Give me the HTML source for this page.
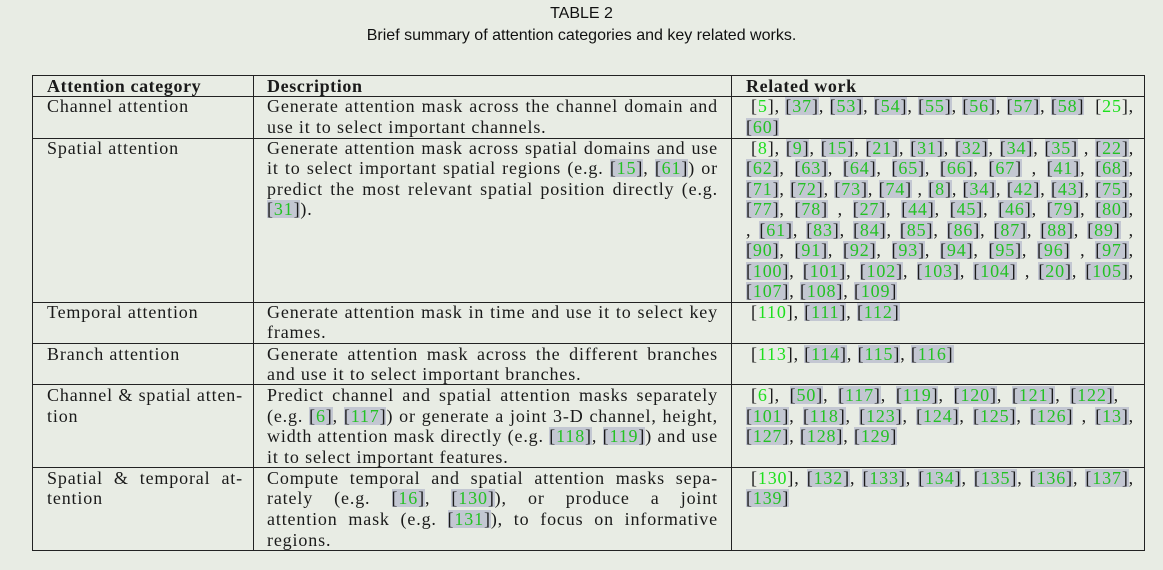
<!DOCTYPE html>
<html><head><meta charset="utf-8"><style>
body{margin:0;width:1163px;height:570px;background:#e8ece4;position:relative;overflow:hidden;font-family:"Liberation Serif",serif;color:#1a1a1a}
.t{position:absolute;left:0;width:1163px;text-align:center;font-family:"Liberation Sans",sans-serif;font-size:16px;color:#111}
.h{position:absolute;background:#222;height:1px;z-index:2}
.v{position:absolute;background:#222;width:1px;z-index:2}
.l{position:absolute;font-size:18px;letter-spacing:0.85px;line-height:20px;height:21px;white-space:nowrap}
.j{text-align:justify;text-align-last:justify;white-space:normal;overflow:hidden}
.a{left:47px;width:196px}.b{left:267px;width:451px}.c{left:746px;width:388px}.c1{left:751px;width:383px}
u{text-decoration:none;background:#c3c7d2;display:inline-block;line-height:18px}
em{font-style:normal;color:#24c224}
em.f{color:#1de01d}
.bd{font-weight:bold;letter-spacing:0.6px}
</style></head><body>
<div class="t" style="top:5px">TABLE 2</div>
<div class="t" style="top:27px">Brief summary of attention categories and key related works.</div>

<div class="h" style="left:32px;width:1113px;top:75px"></div>
<div class="h" style="left:32px;width:1113px;top:96px"></div>
<div class="h" style="left:32px;width:1113px;top:138px"></div>
<div class="h" style="left:32px;width:1113px;top:302px"></div>
<div class="h" style="left:32px;width:1113px;top:343px"></div>
<div class="h" style="left:32px;width:1113px;top:384px"></div>
<div class="h" style="left:32px;width:1113px;top:467px"></div>
<div class="h" style="left:32px;width:1113px;top:550px"></div>
<div class="v" style="left:32px;top:75px;height:476px"></div>
<div class="v" style="left:253px;top:75px;height:476px"></div>
<div class="v" style="left:731px;top:75px;height:476px"></div>
<div class="v" style="left:1144px;top:75px;height:476px"></div>

<div class="l a bd" style="top:76px">Attention category</div>
<div class="l b bd" style="top:76px">Description</div>
<div class="l c bd" style="top:76px">Related work</div>

<div class="l a" style="top:96px">Channel attention</div>
<div class="l b j" style="top:96px">Generate attention mask across the channel domain and</div>
<div class="l b" style="top:117px">use it to select important channels.</div>
<div class="l c1 j" style="top:96px">[<em class="f">5</em>], <u>[<em>37</em>]</u>, <u>[<em>53</em>]</u>, <u>[<em>54</em>]</u>, <u>[<em>55</em>]</u>, <u>[<em>56</em>]</u>, <u>[<em>57</em>]</u>, <u>[<em>58</em>]</u> &nbsp;[<em class="f">25</em>], <u>[<em>59</em>]</u>,</div>
<div class="l c" style="top:117px"><u>[<em>60</em>]</u></div>

<div class="l a" style="top:138px">Spatial attention</div>
<div class="l b j" style="top:138px">Generate attention mask across spatial domains and use</div>
<div class="l b j" style="top:158px">it to select important spatial regions (e.g. <u>[<em>15</em>]</u>, <u>[<em>61</em>]</u>) or</div>
<div class="l b j" style="top:179px">predict the most relevant spatial position directly (e.g. <u>[<em>7</em>]</u>,</div>
<div class="l b" style="top:199px"><u>[<em>31</em>]</u>).</div>
<div class="l c1 j" style="top:138px">[<em class="f">8</em>], <u>[<em>9</em>]</u>, <u>[<em>15</em>]</u>, <u>[<em>21</em>]</u>, <u>[<em>31</em>]</u>, <u>[<em>32</em>]</u>, <u>[<em>34</em>]</u>, <u>[<em>35</em>]</u> , <u>[<em>22</em>]</u>, <u>[<em>26</em>]</u>,</div>
<div class="l c j" style="top:158px"><u>[<em>62</em>]</u>, <u>[<em>63</em>]</u>, <u>[<em>64</em>]</u>, <u>[<em>65</em>]</u>, <u>[<em>66</em>]</u>, <u>[<em>67</em>]</u> , <u>[<em>41</em>]</u>, <u>[<em>68</em>]</u>, <u>[<em>69</em>]</u>, <u>[<em>70</em>]</u>,</div>
<div class="l c j" style="top:179px"><u>[<em>71</em>]</u>, <u>[<em>72</em>]</u>, <u>[<em>73</em>]</u>, <u>[<em>74</em>]</u> , <u>[<em>8</em>]</u>, <u>[<em>34</em>]</u>, <u>[<em>42</em>]</u>, <u>[<em>43</em>]</u>, <u>[<em>75</em>]</u>, <u>[<em>76</em>]</u>,</div>
<div class="l c j" style="top:199px"><u>[<em>77</em>]</u>, <u>[<em>78</em>]</u> , <u>[<em>27</em>]</u>, <u>[<em>44</em>]</u>, <u>[<em>45</em>]</u>, <u>[<em>46</em>]</u>, <u>[<em>79</em>]</u>, <u>[<em>80</em>]</u>, <u>[<em>81</em>]</u>, <u>[<em>82</em>]</u></div>
<div class="l c j" style="top:220px">, <u>[<em>61</em>]</u>, <u>[<em>83</em>]</u>, <u>[<em>84</em>]</u>, <u>[<em>85</em>]</u>, <u>[<em>86</em>]</u>, <u>[<em>87</em>]</u>, <u>[<em>88</em>]</u>, <u>[<em>89</em>]</u> , <u>[<em>47</em>]</u>,</div>
<div class="l c j" style="top:240px"><u>[<em>90</em>]</u>, <u>[<em>91</em>]</u>, <u>[<em>92</em>]</u>, <u>[<em>93</em>]</u>, <u>[<em>94</em>]</u>, <u>[<em>95</em>]</u>, <u>[<em>96</em>]</u> , <u>[<em>97</em>]</u>, <u>[<em>98</em>]</u>, <u>[<em>99</em>]</u>,</div>
<div class="l c j" style="top:261px"><u>[<em>100</em>]</u>, <u>[<em>101</em>]</u>, <u>[<em>102</em>]</u>, <u>[<em>103</em>]</u>, <u>[<em>104</em>]</u> , <u>[<em>20</em>]</u>, <u>[<em>105</em>]</u>, <u>[<em>106</em>]</u>,</div>
<div class="l c" style="top:281px"><u>[<em>107</em>]</u>, <u>[<em>108</em>]</u>, <u>[<em>109</em>]</u></div>

<div class="l a" style="top:302px">Temporal attention</div>
<div class="l b j" style="top:302px">Generate attention mask in time and use it to select key</div>
<div class="l b" style="top:322px">frames.</div>
<div class="l c1" style="top:302px">[<em class="f">110</em>], <u>[<em>111</em>]</u>, <u>[<em>112</em>]</u></div>

<div class="l a" style="top:344px">Branch attention</div>
<div class="l b j" style="top:344px">Generate attention mask across the different branches</div>
<div class="l b" style="top:364px">and use it to select important branches.</div>
<div class="l c1" style="top:344px">[<em class="f">113</em>], <u>[<em>114</em>]</u>, <u>[<em>115</em>]</u>, <u>[<em>116</em>]</u></div>

<div class="l a j" style="top:385px">Channel &amp; spatial atten-</div>
<div class="l a" style="top:406px">tion</div>
<div class="l b j" style="top:385px">Predict channel and spatial attention masks separately</div>
<div class="l b j" style="top:406px">(e.g. <u>[<em>6</em>]</u>, <u>[<em>117</em>]</u>) or generate a joint 3-D channel, height,</div>
<div class="l b j" style="top:426px">width attention mask directly (e.g. <u>[<em>118</em>]</u>, <u>[<em>119</em>]</u>) and use</div>
<div class="l b" style="top:447px">it to select important features.</div>
<div class="l c1 j" style="top:385px">[<em class="f">6</em>], <u>[<em>50</em>]</u>, <u>[<em>117</em>]</u>, <u>[<em>119</em>]</u>, <u>[<em>120</em>]</u>, <u>[<em>121</em>]</u>, <u>[<em>122</em>]</u>, &nbsp;<u>[<em>10</em>]</u>,</div>
<div class="l c j" style="top:406px"><u>[<em>101</em>]</u>, <u>[<em>118</em>]</u>, <u>[<em>123</em>]</u>, <u>[<em>124</em>]</u>, <u>[<em>125</em>]</u>, <u>[<em>126</em>]</u> , <u>[<em>13</em>]</u>, <u>[<em>14</em>]</u>,</div>
<div class="l c" style="top:426px"><u>[<em>127</em>]</u>, <u>[<em>128</em>]</u>, <u>[<em>129</em>]</u></div>

<div class="l a j" style="top:468px">Spatial &amp; temporal at-</div>
<div class="l a" style="top:488px">tention</div>
<div class="l b j" style="top:468px">Compute temporal and spatial attention masks sepa-</div>
<div class="l b j" style="top:488px">rately (e.g. <u>[<em>16</em>]</u>, <u>[<em>130</em>]</u>), or produce a joint spatiotemporal</div>
<div class="l b j" style="top:509px">attention mask (e.g. <u>[<em>131</em>]</u>), to focus on informative</div>
<div class="l b" style="top:530px">regions.</div>
<div class="l c1 j" style="top:468px">[<em class="f">130</em>], <u>[<em>132</em>]</u>, <u>[<em>133</em>]</u>, <u>[<em>134</em>]</u>, <u>[<em>135</em>]</u>, <u>[<em>136</em>]</u>, <u>[<em>137</em>]</u>, <u>[<em>138</em>]</u>,</div>
<div class="l c" style="top:488px"><u>[<em>139</em>]</u></div>
</body></html>
